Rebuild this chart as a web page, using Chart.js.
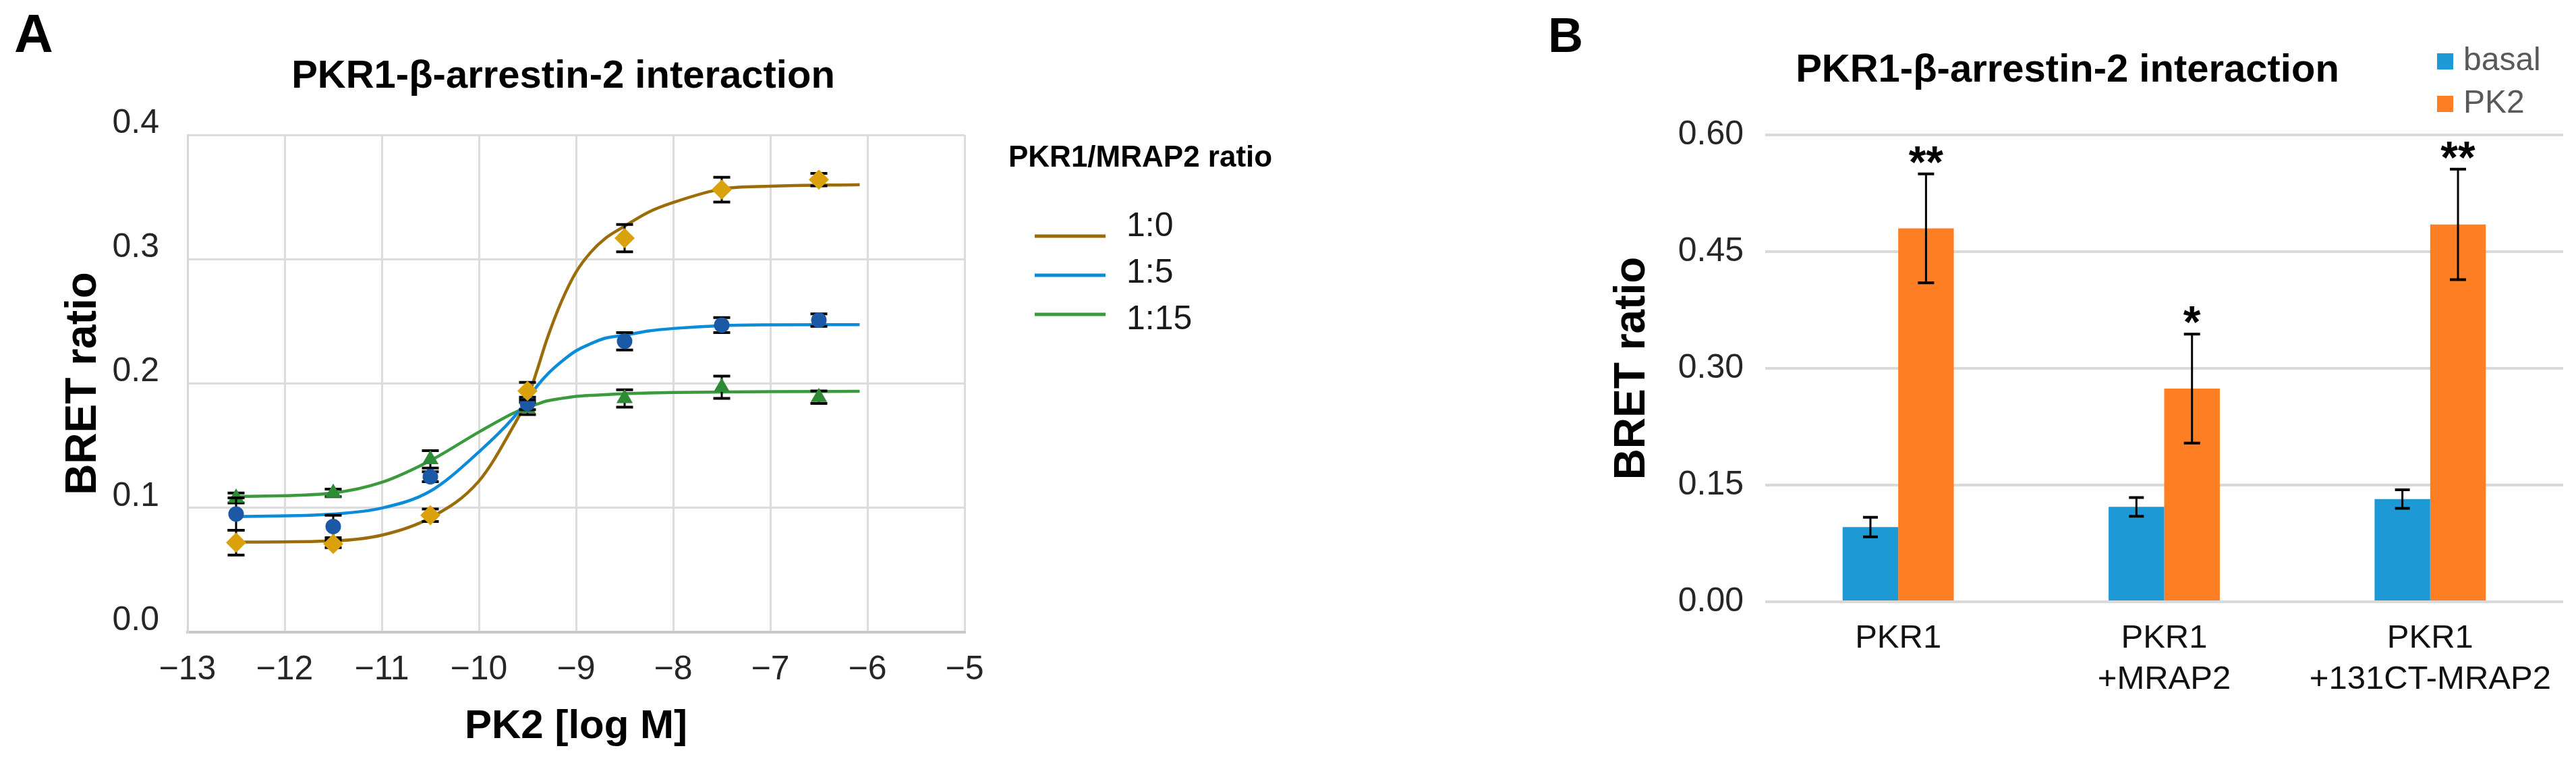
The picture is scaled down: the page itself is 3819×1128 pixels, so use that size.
<!DOCTYPE html>
<html>
<head>
<meta charset="utf-8">
<title>PKR1-β-arrestin-2 interaction</title>
<script src="https://cdn.jsdelivr.net/npm/chart.js@4.4.1/dist/chart.umd.min.js"></script>
<style>
  html, body { margin: 0; padding: 0; background: #fff; }
  body { width: 3819px; height: 1128px; position: relative; overflow: hidden; }
  .panel { position: absolute; top: 0; height: 1128px; }
  #panel-a { left: 0; width: 2260px; }
  #panel-b { left: 2260px; width: 1559px; }
</style>
</head>
<body>
<div class="panel" id="panel-a"><canvas id="chart-a"></canvas></div>
<div class="panel" id="panel-b"><canvas id="chart-b"></canvas></div>
<script>
// Panel A : dose-response, PK2 [log M]
const logDose = [-12.5, -11.5, -10.5, -9.5, -8.5, -7.5, -6.5];
const bret1to0 = [0.072, 0.071, 0.094, 0.194, 0.317, 0.356, 0.364];
const sem1to0 = [0.010, 0.003, 0.005, 0.007, 0.011, 0.010, 0.005];
const bret1to5 = [0.095, 0.085, 0.125, 0.184, 0.234, 0.247, 0.251];
const sem1to5 = [0.013, 0.009, 0.004, 0.005, 0.007, 0.006, 0.005];
const bret1to15 = [0.108, 0.112, 0.139, 0.180, 0.188, 0.197, 0.189];
const sem1to15 = [0.004, 0.003, 0.007, 0.005, 0.007, 0.009, 0.005];

// fitted curves
const fitDose = [-12.5, -11.5, -11, -10.5, -10, -9.65, -9.5, -9.4, -9.3, -9.15, -9, -8.85, -8.7, -8.5, -8.25, -8, -7.5, -7, -6.08];
const fit1to0 = [0.0724, 0.0734, 0.078, 0.092, 0.1215, 0.165, 0.188, 0.211, 0.2355, 0.266, 0.2896, 0.3055, 0.3167, 0.3266, 0.338, 0.3456, 0.3565, 0.3587, 0.360];
const fit1to5 = [0.093, 0.095, 0.0998, 0.1134, 0.145, 0.172, 0.187, 0.198, 0.207, 0.2176, 0.2263, 0.232, 0.2365, 0.2389, 0.2423, 0.2443, 0.2466, 0.2472, 0.2474];
const fit1to15 = [0.109, 0.112, 0.1205, 0.138, 0.161, 0.176, 0.181, 0.1835, 0.186, 0.188, 0.1897, 0.1905, 0.191, 0.1919, 0.1924, 0.1928, 0.1932, 0.1935, 0.1937];

const ratioLabels = ['1:0', '1:5', '1:15'];
const xTicksA = [-13, -12, -11, -10, -9, -8, -7, -6, -5];
const yTicksA = [0, 0.1, 0.2, 0.3, 0.4];

// Panel B : basal vs PK2
const groups = [['PKR1'], ['PKR1', '+MRAP2'], ['PKR1', '+131CT-MRAP2']];
const basal = [0.096, 0.122, 0.132];
const basalSem = [0.0125, 0.012, 0.012];
const pk2 = [0.480, 0.274, 0.485];
const pk2Sem = [0.070, 0.070, 0.071];
const stars = ['**', '*', '**'];
const yTicksB = [0, 0.15, 0.30, 0.45, 0.60];

const FONT = "'Liberation Sans', Arial, sans-serif";
const TITLE = 'PKR1-β-arrestin-2 interaction';
Chart.defaults.font.family = FONT;
Chart.defaults.color = '#333';

const toPoints = (xs, ys) => xs.map((x, i) => ({ x: x, y: ys[i] }));
const minus = v => (v < 0 ? '\u2212' : '') + Math.abs(v);

// error bars : under the markers for scatter, over the bars for bar charts
function drawErrors(chart, args) {
    const ds = chart.data.datasets[args.index];
    if (!ds.errors) return;
    const ctx = chart.ctx;
    const yScale = chart.scales[args.meta.yAxisID];
    const cap = ds.errorCap / 2;
    ctx.save();
    ctx.strokeStyle = '#000';
    args.meta.data.forEach((el, i) => {
        const v = typeof ds.data[i] === 'object' ? ds.data[i].y : ds.data[i];
        const top = yScale.getPixelForValue(v + ds.errors[i]);
        const bot = yScale.getPixelForValue(v - ds.errors[i]);
        ctx.lineWidth = 3;
        ctx.beginPath();
        ctx.moveTo(el.x, top);
        ctx.lineTo(el.x, bot);
        ctx.stroke();
        ctx.lineWidth = 4;
        ctx.beginPath();
        ctx.moveTo(el.x - cap, top);
        ctx.lineTo(el.x + cap, top);
        ctx.moveTo(el.x - cap, bot);
        ctx.lineTo(el.x + cap, bot);
        ctx.stroke();
    });
    ctx.restore();
}

const errorBars = {
    id: 'errorBars',
    beforeDatasetDraw(chart, args) {
        if (args.meta.type !== 'bar') drawErrors(chart, args);
    },
    afterDatasetDraw(chart, args) {
        if (args.meta.type === 'bar') drawErrors(chart, args);
    }
};

// letter, title and legend of panel A
const panelA = {
    id: 'panelA',
    afterDraw(chart) {
        const ctx = chart.ctx;
        ctx.save();
        ctx.fillStyle = '#000';
        ctx.textBaseline = 'alphabetic';
        ctx.textAlign = 'left';
        ctx.font = `bold 80px ${FONT}`;
        ctx.fillText('A', 21, 77);
        ctx.textAlign = 'center';
        ctx.font = `bold 58px ${FONT}`;
        ctx.fillText(TITLE, 835, 130);

        ctx.textAlign = 'left';
        ctx.font = `bold 44px ${FONT}`;
        ctx.fillText('PKR1/MRAP2 ratio', 1495, 247, 408);
        chart.data.datasets.filter(d => d.isFit).forEach((d, i) => {
            const ly = 350 + i * 58;
            ctx.strokeStyle = d.borderColor;
            ctx.lineWidth = 5;
            ctx.beginPath();
            ctx.moveTo(1534, ly);
            ctx.lineTo(1639, ly);
            ctx.stroke();
            ctx.fillStyle = '#1a1a1a';
            ctx.font = `50px ${FONT}`;
            ctx.fillText(d.label, 1670, 350 + i * 69);
        });
        ctx.restore();
    }
};

// letter, title, legend and stars of panel B
const panelB = {
    id: 'panelB',
    afterDraw(chart) {
        const ctx = chart.ctx;
        const yScale = chart.scales.y;
        ctx.save();
        ctx.fillStyle = '#000';
        ctx.textBaseline = 'alphabetic';
        ctx.textAlign = 'left';
        ctx.font = `bold 72px ${FONT}`;
        ctx.fillText('B', 35, 77);
        ctx.textAlign = 'center';
        ctx.font = `bold 58px ${FONT}`;
        ctx.fillText(TITLE, 805, 121);

        // significance stars above the PK2 error bars
        const ds = chart.data.datasets[1];
        const meta = chart.getDatasetMeta(1);
        ctx.font = `bold 66px ${FONT}`;
        meta.data.forEach((bar, i) => {
            const top = yScale.getPixelForValue(ds.data[i] + ds.errors[i]);
            ctx.fillText(ds.stars[i], bar.x, top + 5);
        });

        // legend
        ctx.textAlign = 'left';
        ctx.textBaseline = 'middle';
        ctx.font = `48px ${FONT}`;
        chart.data.datasets.forEach((d, i) => {
            const cy = 91 + i * 63;
            ctx.fillStyle = d.backgroundColor;
            ctx.fillRect(1353, cy - 12, 24, 24);
            ctx.fillStyle = '#595959';
            ctx.fillText(d.label, 1392, cy);
        });
        ctx.restore();
    }
};

function fitDataset(label, values, color) {
    return {
        label: label,
        isFit: true,
        data: toPoints(fitDose, values),
        showLine: true,
        borderColor: color,
        backgroundColor: color,
        borderWidth: 4.5,
        pointRadius: 0,
        cubicInterpolationMode: 'monotone',
        order: 2
    };
}

function pointDataset(label, values, errors, style, radius, color) {
    return {
        label: label,
        data: toPoints(logDose, values),
        errors: errors,
        errorCap: 25,
        showLine: false,
        pointStyle: style,
        pointRadius: radius,
        pointBorderWidth: 0,
        backgroundColor: color,
        borderColor: color,
        order: 1
    };
}

const chartA = new Chart(document.getElementById('chart-a'), {
    type: 'scatter',
    data: {
        datasets: [
            fitDataset(ratioLabels[0], fit1to0, '#9B6C0A'),
            fitDataset(ratioLabels[1], fit1to5, '#0C8BD9'),
            fitDataset(ratioLabels[2], fit1to15, '#3C9A3E'),
            pointDataset(ratioLabels[0] + ' data', bret1to0, sem1to0, 'rectRot', 15, '#DAA10D'),
            pointDataset(ratioLabels[1] + ' data', bret1to5, sem1to5, 'circle', 11.5, '#1B58A5'),
            pointDataset(ratioLabels[2] + ' data', bret1to15, sem1to15, 'triangle', 14, '#2E8B35')
        ]
    },
    options: {
        responsive: true,
        maintainAspectRatio: false,
        animation: false,
        layout: { padding: { left: 0, top: 200, right: 830, bottom: 0 } },
        plugins: { legend: { display: false }, tooltip: { enabled: false } },
        scales: {
            x: {
                type: 'linear',
                min: -13,
                max: -5,
                afterBuildTicks: scale => { scale.ticks = xTicksA.map(v => ({ value: v })); },
                afterFit: scale => { scale.height = 191; },
                grid: { color: '#dcdcdc', lineWidth: 3, drawTicks: false },
                border: { color: '#c8c8c8', width: 4 },
                ticks: { padding: 26, color: '#262626', font: { size: 50 }, callback: v => minus(v) },
                title: {
                    display: true,
                    text: 'PK2 [log M]',
                    color: '#000',
                    font: { size: 60, weight: 'bold' },
                    padding: { top: 0, bottom: 15 }
                }
            },
            y: {
                min: 0,
                max: 0.4,
                afterBuildTicks: scale => { scale.ticks = yTicksA.map(v => ({ value: v })); },
                afterFit: scale => { scale.width = 278; },
                grid: { color: '#dcdcdc', lineWidth: 3, drawTicks: false },
                border: { color: '#d6d6d6', width: 3 },
                ticks: { padding: 42, labelOffset: -17, color: '#262626', font: { size: 50 }, callback: v => v.toFixed(1) },
                title: {
                    display: true,
                    text: 'BRET ratio',
                    color: '#000',
                    font: { size: 64, weight: 'bold' },
                    padding: { top: 86, bottom: 0 }
                }
            }
        }
    },
    plugins: [errorBars, panelA]
});

const chartB = new Chart(document.getElementById('chart-b'), {
    type: 'bar',
    data: {
        labels: groups,
        datasets: [
            {
                label: 'basal',
                data: basal,
                errors: basalSem,
                errorCap: 22,
                backgroundColor: '#1D9AD6',
                categoryPercentage: 0.418,
                barPercentage: 1
            },
            {
                label: 'PK2',
                data: pk2,
                errors: pk2Sem,
                errorCap: 24,
                stars: stars,
                backgroundColor: '#FD7E23',
                categoryPercentage: 0.418,
                barPercentage: 1
            }
        ]
    },
    options: {
        responsive: true,
        maintainAspectRatio: false,
        animation: false,
        layout: { padding: { left: 0, top: 200, right: 19, bottom: 0 } },
        plugins: { legend: { display: false }, tooltip: { enabled: false } },
        scales: {
            x: {
                afterFit: scale => { scale.height = 236; },
                grid: { display: false },
                border: { display: false },
                ticks: { padding: 16, color: '#111', font: { size: 49, lineHeight: 1.25 } }
            },
            y: {
                min: 0,
                max: 0.6,
                afterBuildTicks: scale => { scale.ticks = yTicksB.map(v => ({ value: v })); },
                afterFit: scale => { scale.width = 357; },
                grid: { color: '#d9d9d9', lineWidth: 4, drawTicks: false },
                border: { display: false },
                ticks: { padding: 32, color: '#262626', font: { size: 50 }, callback: v => v.toFixed(2) },
                title: {
                    display: true,
                    text: 'BRET ratio',
                    color: '#000',
                    font: { size: 64, weight: 'bold' },
                    padding: { top: 122, bottom: 0 }
                }
            }
        }
    },
    plugins: [errorBars, panelB]
});
</script>
</body>
</html>
